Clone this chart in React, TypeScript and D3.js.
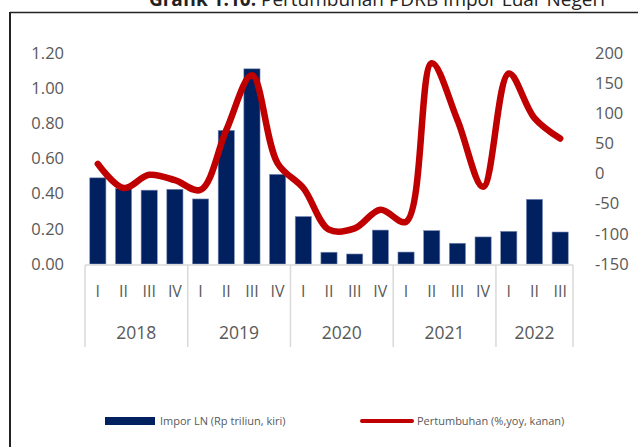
import React from "react";
import * as d3 from "d3";

const quarters = ["I","II","III","IV","I","II","III","IV","I","II","III","IV","I","II","III","IV","I","II","III"];
const years = ["2018","2019","2020","2021","2022"];
const yearSizes = [4,4,4,4,3];
const imporLN = [0.49,0.43,0.42,0.425,0.37,0.76,1.11,0.51,0.27,0.067,0.057,0.193,0.068,0.19,0.118,0.154,0.186,0.368,0.182];
const pertumbuhan = [16,-24,-2,-11,-27,72,163,17,-24,-93,-91,-60,-80,183,89,-22,166,92,58];
const leftTicks = [0,0.2,0.4,0.6,0.8,1.0,1.2];
const rightTicks = [-150,-100,-50,0,50,100,150,200];

const W = 638, H = 447;
const FONT = "'Open Sans', sans-serif";
const TXT = "#595959";

export default function App() {
  const idx = quarters.map((_, i) => i);
  const x = d3.scaleBand<number>().domain(idx).range([85, 573]).paddingInner(0.37).paddingOuter(0.185);
  const step = x.step();
  const x0 = 85;
  const yL = d3.scaleLinear().domain([0, 1.2]).range([264, 53]);
  const yR = d3.scaleLinear().domain([-150, 200]).range([264, 53]);
  const cx = (i: number) => x0 + step * (i + 0.5);
  const line = d3.line<number>().x((_, i) => cx(i)).y(d => yR(d)).curve(d3.curveCatmullRom.alpha(0.5));

  const bounds: number[] = [0];
  yearSizes.forEach(s => bounds.push(bounds[bounds.length - 1] + s));

  return (
    <svg width={W} height={H} style={{ position: "absolute", left: 0, top: 0, background: "#fff" }} fontFamily={FONT}>
      <text x={377} y={6} textAnchor="middle" fontSize={19} fill="#222">
        <tspan fontWeight="bold">Grafik 1.10.</tspan>
        <tspan> Pertumbuhan PDRB Impor Luar Negeri</tspan>
      </text>
      <line x1={10} x2={W} y1={12.5} y2={12.5} stroke="#222" strokeWidth={1.5} />
      <line x1={10} x2={10} y1={12} y2={H} stroke="#222" strokeWidth={2} />

      {leftTicks.map(t => (
        <text key={"l" + t} x={64} y={yL(t)} dy="0.35em" textAnchor="end" fontSize={16.5} fill={TXT}>{t.toFixed(2)}</text>
      ))}
      {rightTicks.map(t => (
        <text key={"r" + t} x={595} y={yR(t)} dy="0.35em" textAnchor="start" fontSize={16.5} fill={TXT}>{t}</text>
      ))}

      {imporLN.map((v, i) => (
        <rect key={"b" + i} x={x(i)} y={yL(v)} width={x.bandwidth()} height={yL(0) - yL(v)} fill="#002060" stroke="#8090b8" strokeWidth={0.6} />
      ))}

      <line x1={85} x2={573} y1={265} y2={265} stroke="#D9D9D9" strokeWidth={1.5} />
      {bounds.map((b, k) => (
        <line key={"s" + k} x1={x0 + b * step} x2={x0 + b * step} y1={265} y2={347} stroke="#D9D9D9" strokeWidth={1.5} />
      ))}
      {quarters.map((q, i) => (
        <text key={"q" + i} x={cx(i)} y={291} dy="0.35em" textAnchor="middle" fontSize={16} fill={TXT}>{q}</text>
      ))}
      {years.map((yr, k) => (
        <text key={"y" + k} x={x0 + (bounds[k] + bounds[k + 1]) / 2 * step} y={333} dy="0.35em" textAnchor="middle" fontSize={17.5} fill={TXT}>{yr}</text>
      ))}

      <path d={line(pertumbuhan) || ""} fill="none" stroke="#C00000" strokeWidth={6.5} strokeLinecap="round" strokeLinejoin="round" />

      <rect x={105} y={417} width={50} height={8} fill="#002060" />
      <text x={160} y={421} dy="0.35em" fontSize={11} fill={TXT}>Impor LN (Rp triliun, kiri)</text>
      <line x1={362} x2={412} y1={421} y2={421} stroke="#C00000" strokeWidth={4} strokeLinecap="round" />
      <text x={417} y={421} dy="0.35em" fontSize={11} fill={TXT}>Pertumbuhan (%,yoy, kanan)</text>
    </svg>
  );
}
